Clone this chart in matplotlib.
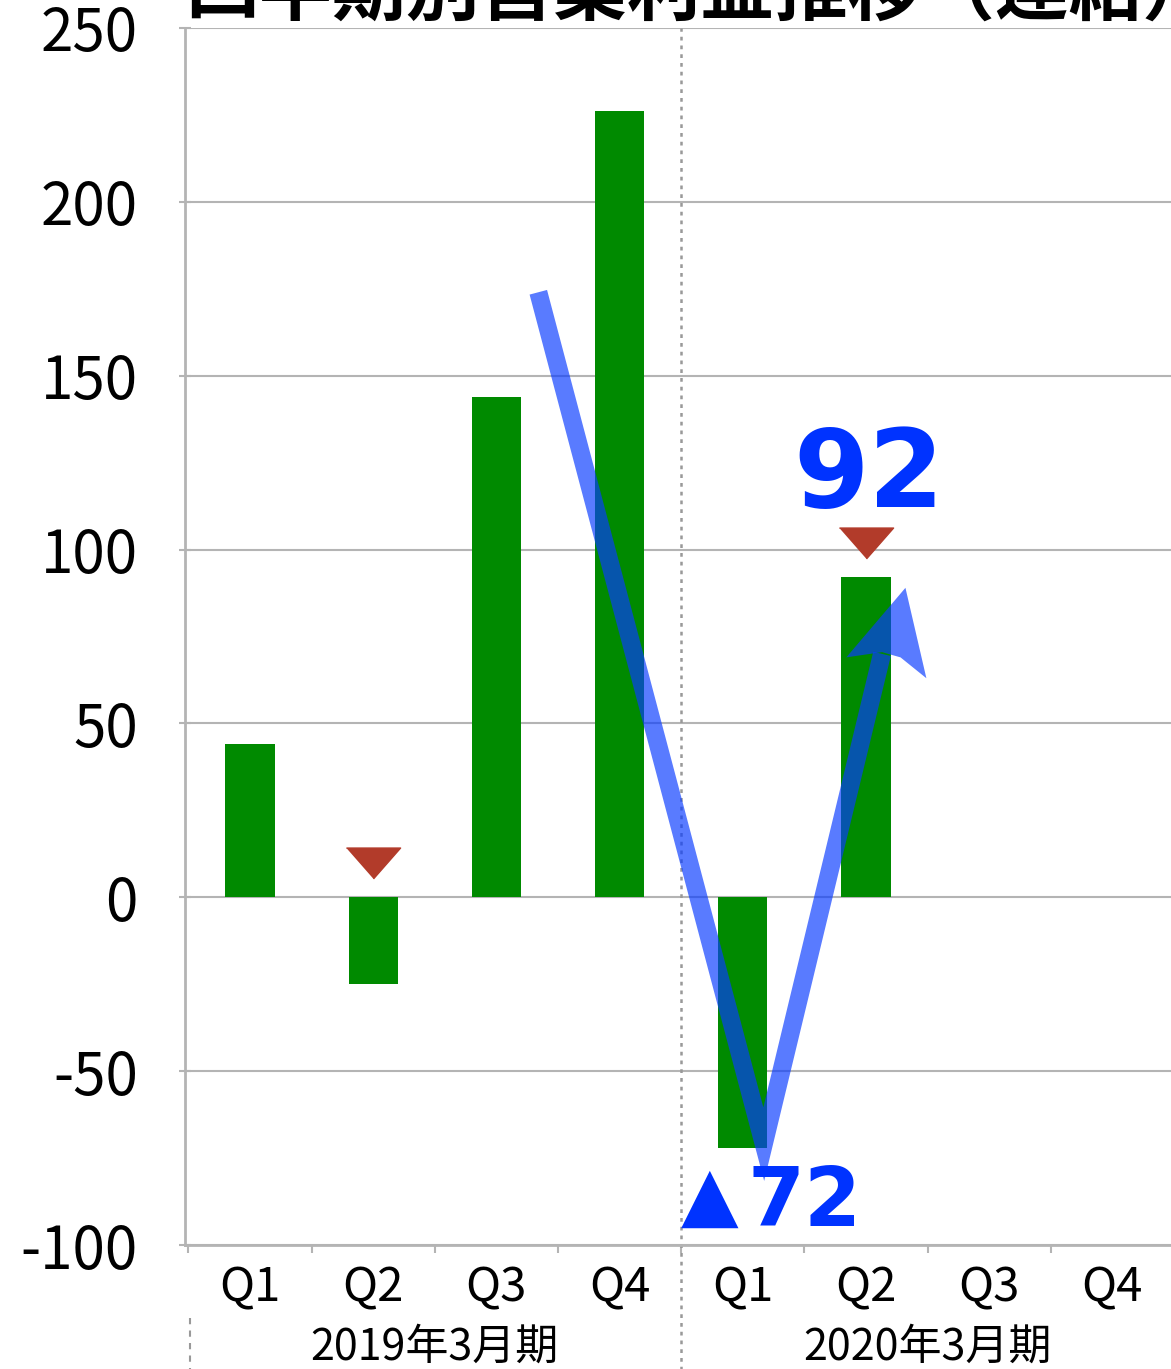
import numpy as np
import matplotlib.pyplot as plt
from matplotlib.lines import Line2D
from matplotlib.patches import Polygon

plt.rcParams['font.family'] = ['Noto Sans CJK JP', 'DejaVu Sans']

quarters = ['Q1', 'Q2', 'Q3', 'Q4', 'Q1', 'Q2', 'Q3', 'Q4']
years = ['2019年3月期', '2020年3月期']
profit = [44, -25, 144, 226, -72, 92]
down_idx = [1, 5]          # quarters marked with a red down triangle
yticks = [-100, -50, 0, 50, 100, 150, 200, 250]
title = '四半期別営業利益推移（連結）'

# hand drawn arrow (category index, value)
arrow_pts = [(2.34, 174), (4.17, -71), (5.13, 70)]
arrow_head = [(5.32, 89), (4.84, 69), (5.13, 70.5), (5.28, 69), (5.49, 63)]

W, H = 1171, 1369
fig = plt.figure(figsize=(W / 100, H / 100), dpi=100)
ax = fig.add_axes([185 / W, 1 - 1245 / H, 989 / W, 1217 / H])

green = '#008a00'
grey = '#b4b4b4'
blue = '#0033ff'

x = np.arange(len(profit))
ax.bar(x, profit, width=0.4, color=green, zorder=2)

ax.set_xlim(-0.528, 7.5)
ax.set_ylim(-100, 250)
ax.set_yticks(yticks)
ax.set_yticklabels([str(v) for v in yticks], fontsize=42)
ax.yaxis.grid(True, color=grey, lw=1.5, zorder=0)
ax.set_axisbelow(True)

ax.set_xticks(np.arange(-0.5, 8, 1))
ax.set_xticklabels([])
ax.set_xticks(np.arange(len(quarters)), minor=True)
ax.set_xticklabels(quarters, minor=True, fontsize=34)
ax.tick_params(axis='x', which='minor', length=0, pad=14)
ax.tick_params(axis='x', which='major', length=6, width=1.5, color=grey, direction='out')
ax.tick_params(axis='y', length=8, width=1.5, color=grey, direction='inout', pad=30)

for s in ['top', 'right']:
    ax.spines[s].set_visible(False)
for s in ['left', 'bottom']:
    ax.spines[s].set_color(grey)
    ax.spines[s].set_linewidth(2)

# year group labels and separators
trans = ax.get_xaxis_transform()
for i, y in enumerate(years):
    ax.text(1.5 + 4 * i, -0.084, y, transform=trans,
            ha='center', va='center', fontsize=31)
ax.add_line(Line2D([3.5, 3.5], [-0.11, 1.0], transform=trans, color='#999999',
                   lw=1.8, ls=(0, (1.5, 2)), clip_on=False, zorder=1))
ax.add_line(Line2D([-0.487, -0.487], [-0.06, -0.11], transform=trans, color='#999999',
                   lw=1.5, ls=(0, (3, 3)), clip_on=False))

# red down triangles
tri = [(-1, 0.57), (1, 0.57), (0, -0.57)]
for i in down_idx:
    ax.plot(x[i], max(profit[i], 0) + 10, marker=tri, markersize=39,
            color='#b23b2a', ls='none', zorder=4)

# blue arrow
ax_x, ax_y = zip(*arrow_pts)
ax.plot(ax_x, ax_y, color='#0a3cff', alpha=0.68, lw=13, solid_joinstyle='miter',
        solid_capstyle='butt', zorder=5)
ax.add_patch(Polygon(arrow_head, closed=True, color='#0a3cff', alpha=0.68, lw=0, zorder=5))

# value labels
ax.text(5.02, profit[5] + 29, str(profit[5]), color=blue, fontsize=78,
        fontweight='bold', family='DejaVu Sans', ha='center', va='center', zorder=6)
ax.text(3.73, profit[4] - 14.5, '▲', color=blue, fontsize=54,
        family='DejaVu Sans', ha='center', va='center', zorder=6)
ax.text(4.5, profit[4] - 16, str(abs(profit[4])), color=blue, fontsize=59,
        fontweight='bold', family='DejaVu Sans', ha='center', va='center', zorder=6)

fig.text(185 / W, 1 - 14 / H, title, fontsize=53, fontweight='bold',
         ha='left', va='baseline')

fig.savefig('out.png', dpi=100)
